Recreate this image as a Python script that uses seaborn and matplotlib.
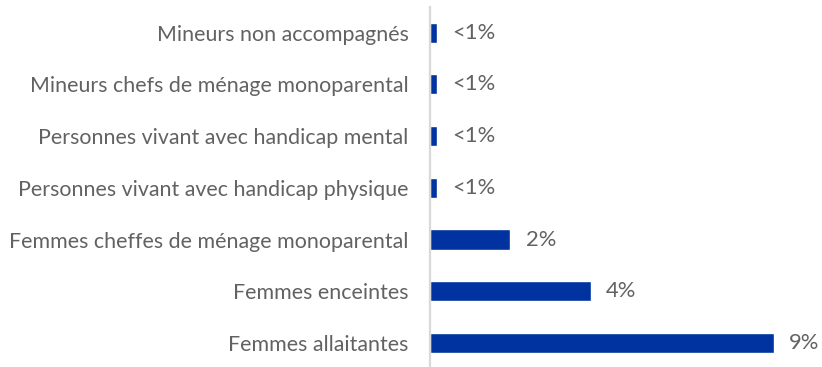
import matplotlib
matplotlib.use("Agg")
import matplotlib.pyplot as plt
import seaborn as sns
import pandas as pd

categories = [
    "Mineurs non accompagnés",
    "Mineurs chefs de ménage monoparental",
    "Personnes vivant avec handicap mental",
    "Personnes vivant avec handicap physique",
    "Femmes cheffes de ménage monoparental",
    "Femmes enceintes",
    "Femmes allaitantes",
]
values = [0.17, 0.17, 0.17, 0.17, 2.0, 4.0, 8.55]

df = pd.DataFrame({"groupe": categories, "pct": values})

sns.set_theme(style="white")
plt.rcParams["font.family"] = ["Lato", "DejaVu Sans"]

W, H = 822, 367
fig = plt.figure(figsize=(W / 100, H / 100), dpi=100)
left_px, right_px = 430, 815
row_px = 51.7
top_px = 32.7 - row_px / 2
ax_h = row_px * len(categories)
ax = fig.add_axes([left_px / W, (H - top_px - ax_h) / H,
                   (right_px - left_px) / W, ax_h / H])

sns.barplot(data=df, y="groupe", x="pct", orient="h", color="#0033A0",
            saturation=1, width=0.39, ax=ax)

ax.set_xlim(0, (right_px - left_px) / (344 / 8.55))
ax.set_ylim(len(categories) - 0.5, -0.5)
ax.set_xlabel("")
ax.set_ylabel("")
ax.set_xticks([])
for s in ["top", "right", "bottom"]:
    ax.spines[s].set_visible(False)
ax.spines["left"].set_color("#d9d9d9")
ax.spines["left"].set_linewidth(1.6)
ax.tick_params(axis="y", length=0, pad=15.5, labelsize=15.4, labelcolor="#626262")

for i, v in enumerate(values):
    txt = "<1%" if v < 1 else f"{v:.0f}%"
    ax.annotate(txt, xy=(v, i), xytext=(11, 0), textcoords="offset points",
                va="center", ha="left", fontsize=15.8, color="#626262")

fig.savefig("out.png", dpi=100)
